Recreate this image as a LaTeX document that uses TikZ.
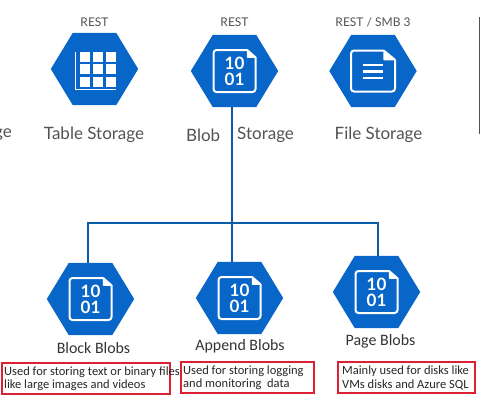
\documentclass[tikz,border=0pt]{standalone}
\usepackage{fontspec}
\setmainfont{Lato}
\newfontfamily\boxfont{Carlito}
\usepackage{xcolor}
\usetikzlibrary{positioning}

\definecolor{azureblue}{RGB}{8,102,200}
\definecolor{busblue}{RGB}{8,92,168}
\definecolor{labelgray}{RGB}{82,82,82}
\definecolor{notered}{RGB}{222,32,52}

\tikzset{
    hexbox/.style={minimum width=87pt, minimum height=72pt, inner sep=0pt},
    bus/.style={busblue, line width=2pt},
    proto/.style={labelgray, font=\fontsize{12}{14}\selectfont, inner sep=0pt},
    title/.style={labelgray, font=\fontsize{17}{19}\selectfont, inner sep=0pt},
    subtitle/.style={black!80, font=\boxfont\fontsize{15.9}{19}\selectfont, inner sep=0pt},
    notebox/.style={draw=notered, line width=1.8pt, anchor=north west, inner sep=0pt},
    notetext/.style={black!85, font=\boxfont\fontsize{12.5}{13.6}\selectfont, align=left, anchor=west, inner sep=0pt},
}

% flat hexagon filling a hexbox node
\newcommand{\hexfill}[1]{
    \fill[azureblue] (#1.west) -- ([xshift=22pt]#1.north west) -- ([xshift=-22pt]#1.north east)
        -- (#1.east) -- ([xshift=-22pt]#1.south east) -- ([xshift=22pt]#1.south west) -- cycle;
}
% sheet with a folded corner: node, half width, half height, fold x, fold y
\newcommand{\sheet}[5]{
    \draw[white, line width=2pt, line join=round, rounded corners=3pt]
        ([shift={(#2-#4,-#3)}]#1.center) -- ([shift={(-#2,-#3)}]#1.center)
        -- ([shift={(-#2,#3)}]#1.center) -- ([shift={(#2,#3)}]#1.center)
        -- ([shift={(#2,-#3+#5)}]#1.center);
    \draw[white, fill=white, line width=1.5pt, line join=round]
        ([shift={(#2-#4,-#3)}]#1.center) -- ([shift={(#2,-#3+#5)}]#1.center)
        -- ([shift={(#2-#4,-#3+#5)}]#1.center) -- cycle;
}

\begin{document}
\begin{tikzpicture}[x=1pt, y=-1pt]
    \useasboundingbox (0,0) rectangle (495,400);

    \node[hexbox] (tablehex) at (94.5,69) {};
    \node[hexbox] (blobhex) at (234.5,71) {};
    \node[hexbox] (filehex) at (373,71) {};
    \node[hexbox] (blockhex) at (90.5,299) {};
    \node[hexbox] (appendhex) at (239.5,298) {};
    \node[hexbox] (pagehex) at (376.5,292) {};
    \coordinate (busjoin) at (232,223);

    % Tree under the blob icon
    \draw[bus] (blobhex.south -| busjoin) -- (busjoin);
    \draw[bus] (appendhex.north -| busjoin) -- (busjoin);
    \draw[bus] ([xshift=-2.5pt]blockhex.north) |- (busjoin);
    \draw[bus] ([xshift=1.5pt]pagehex.north) |- (busjoin);

    \foreach \hex in {tablehex, blobhex, filehex, blockhex, appendhex, pagehex} {
        \hexfill{\hex}
    }

    % Binary sheets
    \foreach \hex in {blobhex, blockhex, appendhex, pagehex} {
        \sheet{\hex}{21}{21}{8}{7}
        \node[white, font=\fontsize{17}{17}\selectfont\bfseries, inner sep=0pt] (\hex ten) at ([yshift=8pt]\hex.center) {10};
        \node[white, font=\fontsize{17}{17}\selectfont\bfseries, inner sep=0pt] (\hex one) at ([yshift=-8pt]\hex.center) {01};
    }

    % Table grid
    \foreach \dx in {-10,3,16} {
        \foreach \dy in {-12,0,12.5} {
            \fill[white] ([shift={(\dx-5,\dy-5)}]tablehex.center) rectangle ([shift={(\dx+5,\dy+5)}]tablehex.center);
        }
    }
    \draw[white, line width=1.5pt] ([shift={(-19,-17)}]tablehex.center) |- ([shift={(21,20.5)}]tablehex.center);

    % File sheet
    \sheet{filehex}{22}{20.5}{11}{9}
    \foreach \dy in {-6,0.5,7} {
        \fill[white] ([shift={(-10,\dy-1.3)}]filehex.center) rectangle ([shift={(10,\dy+1.3)}]filehex.center);
    }

    \node[proto, above=6pt of tablehex] (tableproto) {REST};
    \node[proto, above=8pt of blobhex] (blobproto) {REST};
    \node[proto, above=8pt of filehex] (fileproto) {REST / SMB 3};

    \node[title] (tablename) at (94,135) {Table Storage};
    \node[title, anchor=west] (blobname) at (186,135) {Blob};
    \node[title, anchor=west] (storagename) at (237,135) {Storage};
    \node[title] (filename) at (378.5,135) {File Storage};
    \node[title, anchor=east] (cutname) at (12,135) {ge};

    \node[subtitle] (blockname) at (93.5,348) {Block Blobs};
    \node[subtitle] (appendname) at (240,346) {Append Blobs};
    \node[subtitle] (pagename) at (380.5,341) {Page Blobs};

    % Notes
    \node[notebox, minimum width=168pt, minimum height=31pt] (blocknote) at (1,362) {};
    \node[notebox, minimum width=133pt, minimum height=31pt] (appendnote) at (180,361) {};
    \node[notebox, minimum width=137pt, minimum height=31pt] (pagenote) at (337,361) {};
    \node[notetext] (blocktext) at ([xshift=3pt, yshift=-0.5pt]blocknote.west) {Used for storing text or binary files\\like large images and videos};
    \node[notetext] (appendtext) at ([xshift=3pt, yshift=-0.5pt]appendnote.west) {Used for storing logging\\and monitoring\ \ data};
    \node[notetext] (pagetext) at ([xshift=5pt, yshift=-0.5pt]pagenote.west) {Mainly used for disks like\\VMs disks and Azure SQL};

    % Divider at the right
    \coordinate (ruletop) at (479,17);
    \coordinate (rulebottom) at (479,134);
    \draw[labelgray, line width=1pt] (ruletop) -- (rulebottom);
\end{tikzpicture}
\end{document}
